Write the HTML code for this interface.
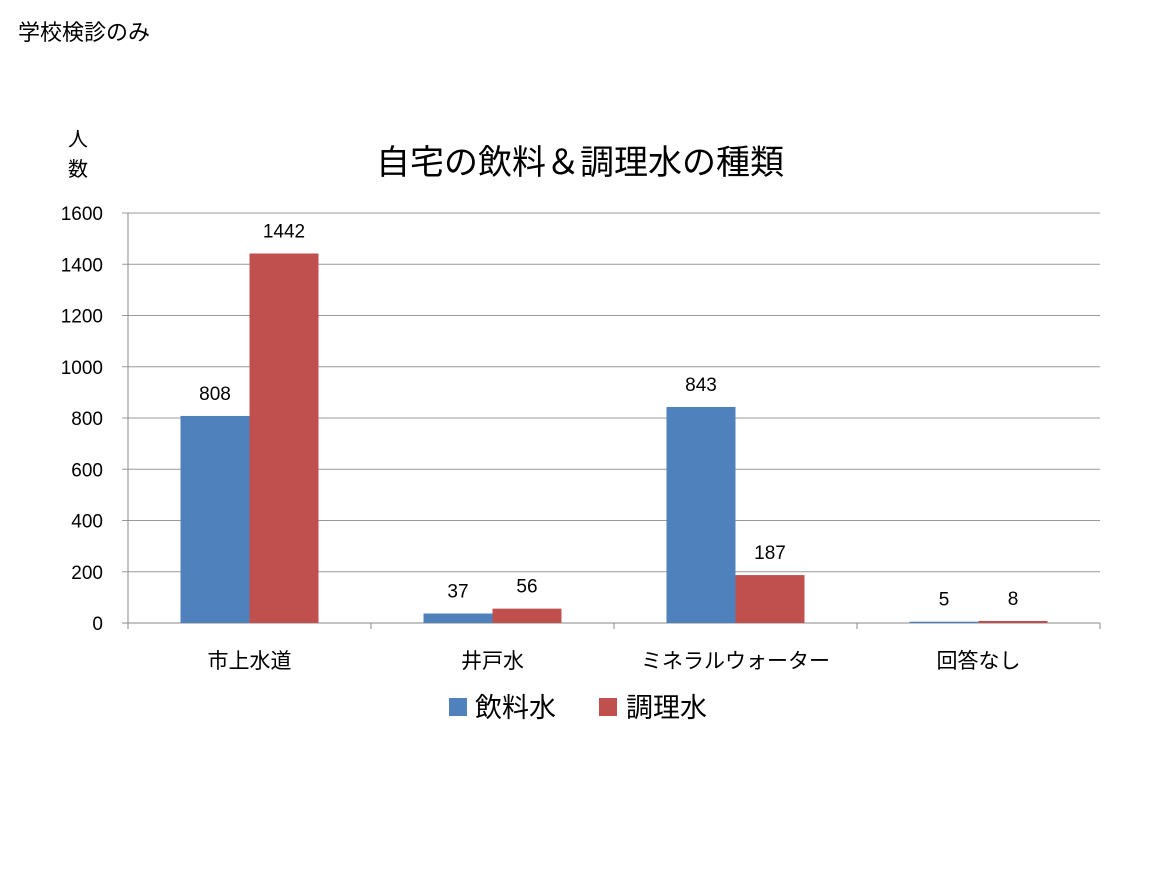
<!DOCTYPE html>
<html><head><meta charset="utf-8"><style>
body{margin:0;background:#fff;width:1163px;height:872px;overflow:hidden;font-family:"Liberation Sans","Noto Sans CJK JP",sans-serif}
</style></head><body>
<svg width="1163" height="872" style="font-family:'Liberation Sans','Noto Sans CJK JP',sans-serif">
<text x="18" y="40" font-size="22">学校検診のみ</text>
<text x="580" y="174" font-size="34" text-anchor="middle">自宅の飲料＆調理水の種類</text>
<g><text x="78" y="146" font-size="20" text-anchor="middle">人</text><text x="78" y="176" font-size="20" text-anchor="middle">数</text></g>
<g id="grid"></g><g id="bars"></g><g id="labels"></g>
<g>
<rect x="449" y="698" width="18" height="18" fill="#4f81bd"/>
<text x="475" y="717" font-size="27">飲料水</text>
<rect x="599" y="698" width="18" height="18" fill="#c0504d"/>
<text x="626" y="717" font-size="27">調理水</text>
</g>
</svg>
<script>
const categories=["市上水道","井戸水","ミネラルウォーター","回答なし"];
const drinking=[808,37,843,5];
const cooking=[1442,56,187,8];
const yTicks=[0,200,400,600,800,1000,1200,1400,1600];
const NS="http://www.w3.org/2000/svg";
const L=128,R=1100,T=213,B=623,maxV=1600;
const y=v=>B-(v/maxV)*(B-T);
const bw=(R-L)/categories.length;
function mk(tag,attrs,parent){const e=document.createElementNS(NS,tag);for(const k in attrs)e.setAttribute(k,attrs[k]);document.getElementById(parent).appendChild(e);return e;}
yTicks.forEach(t=>{
 const g=mk("line",{x1:L-6,x2:R,y1:y(t),y2:y(t),stroke:t===0?"#888":"#999","stroke-width":1},"grid");
 
 
 const tx=mk("text",{x:103,y:y(t)+7,"font-size":19,"text-anchor":"end"},"grid");tx.textContent=t;
 
 
});
const ax=mk("line",{x1:L,x2:L,y1:T,y2:B,stroke:"#888"},"grid");


for(let i=0;i<=categories.length;i++){
 const tk=mk("line",{x1:L+i*bw,x2:L+i*bw,y1:B,y2:B+6,stroke:"#888"},"grid");
 
 
}
const barW=69;
categories.forEach((c,i)=>{
 const cx=L+bw*(i+0.5);
 [[drinking[i],"#4f81bd",cx-barW,"drinking"],[cooking[i],"#c0504d",cx,"cooking"]].forEach(([v,col,x,s])=>{
  const r=mk("rect",{x:x,y:y(v),width:barW,height:B-y(v),fill:col},"bars");
  
  
  const t=mk("text",{x:x+barW/2,y:y(v)-16,"font-size":19,"text-anchor":"middle"},"labels");t.textContent=v;
  
  
 });
 const ct=mk("text",{x:cx,y:668,"font-size":21,"text-anchor":"middle"},"labels");ct.textContent=c;
 
 
});
</script>
</body></html>
